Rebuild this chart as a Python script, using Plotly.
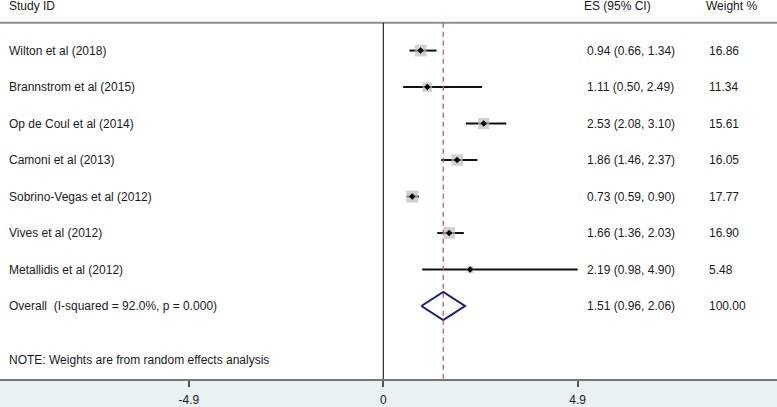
import plotly.graph_objects as go

studies = ["Wilton et al (2018)", "Brannstrom et al (2015)", "Op de Coul et al (2014)",
           "Camoni et al (2013)", "Sobrino-Vegas et al (2012)", "Vives et al (2012)",
           "Metallidis et al (2012)"]
es = [0.94, 1.11, 2.53, 1.86, 0.73, 1.66, 2.19]
lo = [0.66, 0.50, 2.08, 1.46, 0.59, 1.36, 0.98]
hi = [1.34, 2.49, 3.10, 2.37, 0.90, 2.03, 4.90]
weights = [16.86, 11.34, 15.61, 16.05, 17.77, 16.90, 5.48]

overall_label = "Overall  (I-squared = 92.0%, p = 0.000)"
overall_es, overall_lo, overall_hi, overall_w = 1.51, 0.96, 2.06, 100.00
note = "NOTE: Weights are from random effects analysis"
tick_vals = [-4.9, 0, 4.9]
tick_text = ["-4.9", "0", "4.9"]

FONT = "Liberation Sans, Arial, sans-serif"
TXT = "#1a1a1a"
rows = list(range(len(studies)))
r_overall = len(studies)

fig = go.Figure()

# CI lines
cx, cy = [], []
for r, a, b in zip(rows, lo, hi):
    cx += [a, b, None]
    cy += [r, r, None]
fig.add_trace(go.Scatter(x=cx, y=cy, mode="lines", line=dict(color="#111111", width=2),
                         hoverinfo="skip", showlegend=False))
# weight squares
fig.add_trace(go.Scatter(x=es, y=rows, mode="markers",
                         marker=dict(symbol="square", size=[2.85 * w ** 0.5 for w in weights],
                                     color="#bcbcbc", line=dict(width=0)),
                         showlegend=False, hoverinfo="skip"))
# point estimates
fig.add_trace(go.Scatter(x=es, y=rows, mode="markers",
                         marker=dict(symbol="diamond", size=5, color="#000000"),
                         showlegend=False, hoverinfo="skip"))
# overall diamond
h = 0.386
fig.add_trace(go.Scatter(x=[overall_lo, overall_es, overall_hi, overall_es, overall_lo],
                         y=[r_overall, r_overall - h, r_overall, r_overall + h, r_overall],
                         mode="lines", line=dict(color="#1c1c7a", width=2),
                         showlegend=False, hoverinfo="skip"))

y_top_line = -0.761
# header rule
fig.add_hline(y=y_top_line, line=dict(color="#8c8c8c", width=2), layer="above")
# zero line
fig.add_shape(type="line", x0=0, x1=0, y0=y_top_line, y1=9.0, yref="y",
              line=dict(color="#000000", width=1))
# overall dashed line
fig.add_shape(type="line", x0=overall_es, x1=overall_es, y0=y_top_line, y1=9.0, yref="y",
              line=dict(color="#b5606c", width=1.3, dash="5px,4px"))

def ann(text, xpx, y):
    fig.add_annotation(text=text, x=xpx / 777, xref="paper", y=y, yref="y",
                       xanchor="left", yanchor="middle", showarrow=False,
                       font=dict(family=FONT, size=12, color=TXT))

ann("Study ID", 7, -1.223)
ann("ES (95% CI)", 582, -1.223)
ann("Weight %", 704, -1.223)
for r, s, e, a, b, w in zip(rows, studies, es, lo, hi, weights):
    ann(s, 7, r)
    ann(f"{e:.2f} ({a:.2f}, {b:.2f})", 585, r)
    ann(f"{w:.2f}", 707, r)
ann(overall_label, 7, r_overall)
ann(f"{overall_es:.2f} ({overall_lo:.2f}, {overall_hi:.2f})", 585, r_overall)
ann(f"{overall_w:.2f}", 707, r_overall)
ann(note, 7, 8.478)

fig.update_layout(
    width=777, height=407,
    margin=dict(l=0, r=0, t=0, b=25),
    paper_bgcolor="#e9f1f3", plot_bgcolor="#ffffff",
    xaxis=dict(range=[-9.662, 9.924], showgrid=False, zeroline=False,
               tickvals=tick_vals, ticktext=tick_text, ticks="outside", ticklen=6,
               tickcolor="#555555", tickwidth=1.5,
               showline=True, linecolor="#777777", linewidth=2,
               tickfont=dict(family=FONT, size=12, color=TXT), ticklabelstandoff=3),
    yaxis=dict(range=[9.0, -1.386], showgrid=False, zeroline=False, showticklabels=False,
               ticks="", showline=False),
    showlegend=False,
)
fig.write_html("out.html", config={"displayModeBar": False},
               post_script="document.body.style.margin='0';document.body.style.overflow='hidden';")
